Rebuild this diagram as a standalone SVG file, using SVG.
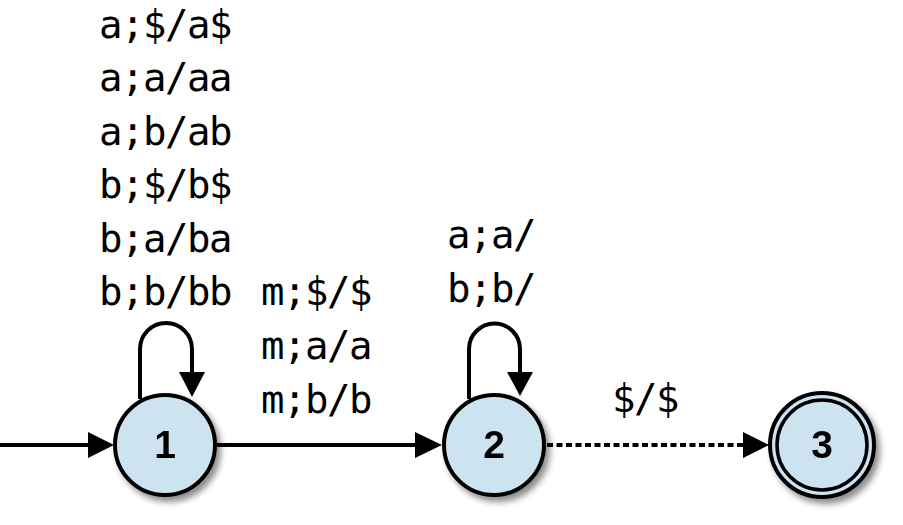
<svg xmlns="http://www.w3.org/2000/svg" width="903" height="525" viewBox="0 0 903 525">
<defs>
<filter id="sh" x="-30%" y="-30%" width="170%" height="170%">
<feGaussianBlur in="SourceAlpha" stdDeviation="3"/>
<feOffset dx="4" dy="5" result="b"/>
<feComponentTransfer><feFuncA type="linear" slope="0.45"/></feComponentTransfer>
<feMerge><feMergeNode/><feMergeNode in="SourceGraphic"/></feMerge>
</filter>
</defs>
<style>
.st{fill:#cde3f0;stroke:#000;stroke-width:4}
.ring{fill:none;stroke:#000;stroke-width:3.5}
.num{font-family:"Liberation Sans",Arial,sans-serif;font-weight:bold;font-size:39px;text-anchor:middle}
.lbl{font-family:"DejaVu Sans Mono","Liberation Mono",monospace;font-size:39px;letter-spacing:-1.5px;fill:#000}
.e{fill:none;stroke:#000;stroke-width:4}
.dot{stroke-dasharray:6 3.5}
.ah{fill:#000}
</style>
<rect width="903" height="525" fill="#fff"/>
<g id="connectors">
<line class="e" x1="0" y1="445" x2="90" y2="445"/>
<polygon class="ah" points="88,432 114,445 88,458"/>
<line class="e" x1="217" y1="445" x2="417" y2="445"/>
<polygon class="ah" points="415,432 442,445 415,458"/>
<line class="e dot" x1="547" y1="445" x2="744" y2="445"/>
<polygon class="ah" points="743,432 769,445 743,458"/>
<path class="e" d="M140,399 V349 A26,26 0 0 1 192,349 V374"/>
<polygon class="ah" points="179,372 205,372 192,397"/>
<path class="e" d="M469,399 V349 A25.5,25.5 0 0 1 520,349 V374"/>
<polygon class="ah" points="507,372 533,372 520,396"/>
<g class="lbl">
<text x="99" y="38">a;$/a$</text>
<text x="99" y="91">a;a/aa</text>
<text x="99" y="145">a;b/ab</text>
<text x="99" y="198">b;$/b$</text>
<text x="99" y="252">b;a/ba</text>
<text x="99" y="305">b;b/bb</text>
<text x="261" y="305">m;$/$</text>
<text x="261" y="359">m;a/a</text>
<text x="261" y="413">m;b/b</text>
<text x="447" y="248">a;a/</text>
<text x="447" y="302">b;b/</text>
<text x="612" y="412">$/$</text>
</g>
</g>
<g id="node1" filter="url(#sh)">
<circle class="st" cx="165" cy="445" r="50"/>
<text class="num" x="165" y="458">1</text>
</g>
<g id="node2" filter="url(#sh)">
<circle class="st" cx="494" cy="445" r="50"/>
<text class="num" x="494" y="458">2</text>
</g>
<g id="node3" filter="url(#sh)">
<circle class="st" cx="822" cy="445" r="52" stroke-width="3.5"/>
<circle class="ring" cx="822" cy="445" r="45"/>
<text class="num" x="822" y="458">3</text>
</g>
</svg>
